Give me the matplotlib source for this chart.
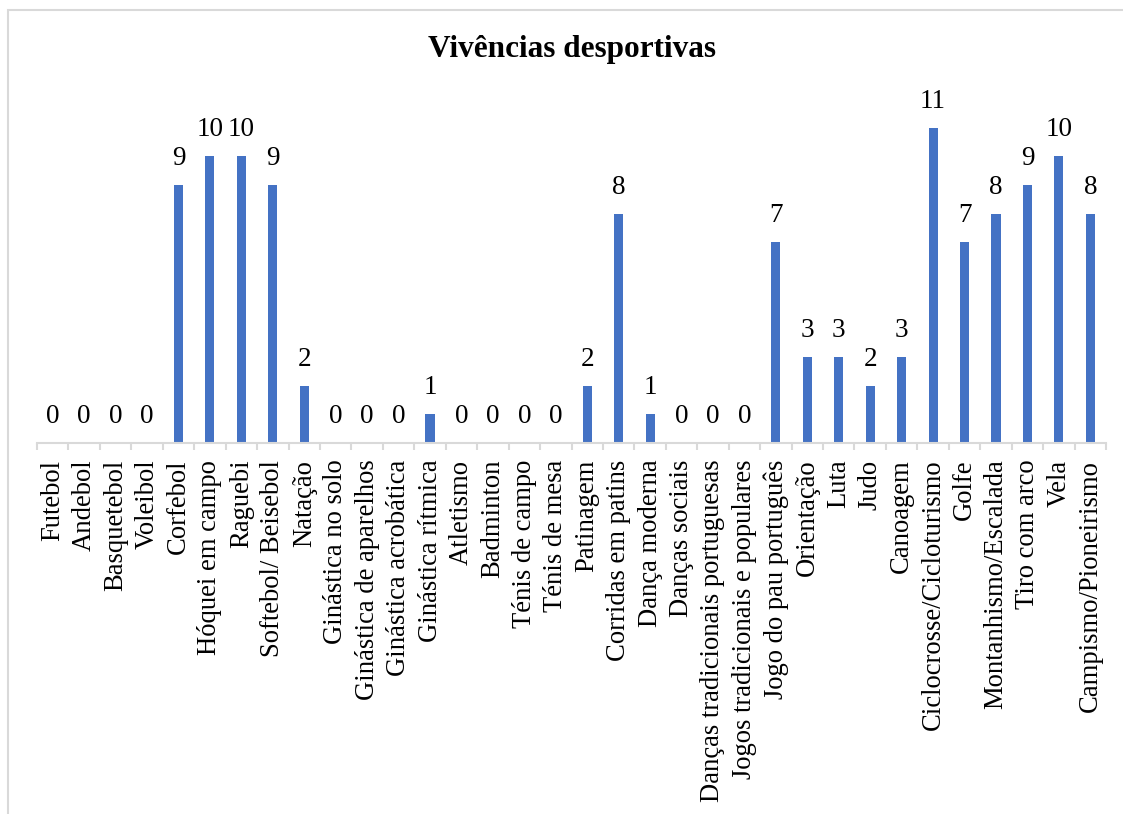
import matplotlib.pyplot as plt
from matplotlib.patches import Rectangle
import numpy as np

plt.rcParams['font.family'] = ['Liberation Serif', 'DejaVu Serif']

categorias = ['Futebol', 'Andebol', 'Basquetebol', 'Voleibol', 'Corfebol',
              'Hóquei em campo', 'Raguebi', 'Softebol/ Beisebol', 'Natação',
              'Ginástica no solo', 'Ginástica de aparelhos', 'Ginástica acrobática',
              'Ginástica rítmica', 'Atletismo', 'Badminton', 'Ténis de campo',
              'Ténis de mesa', 'Patinagem', 'Corridas em patins', 'Dança moderna',
              'Danças sociais', 'Danças tradicionais portuguesas',
              'Jogos tradicionais e populares', 'Jogo do pau português',
              'Orientação', 'Luta', 'Judo', 'Canoagem',
              'Ciclocrosse/Cicloturismo', 'Golfe', 'Montanhismo/Escalada',
              'Tiro com arco', 'Vela', 'Campismo/Pioneirismo']
valores = [0, 0, 0, 0, 9, 10, 10, 9, 2, 0, 0, 0, 1, 0, 0, 0, 0, 2, 8, 1,
           0, 0, 0, 7, 3, 3, 2, 3, 11, 7, 8, 9, 10, 8]

fig = plt.figure(figsize=(11.23, 8.14), dpi=100)
ax = fig.add_axes([37 / 1123, 1 - 443 / 814, (1106 - 37) / 1123, (443 - 99) / 814])

# moldura do gráfico (cortada à direita e em baixo)
fig.patches.append(Rectangle((8 / 1123, -0.05), 1.1, 1 - 10 / 814 + 0.05,
                             transform=fig.transFigure, fill=False,
                             edgecolor='#d9d9d9', linewidth=1.5))

x = np.arange(len(categorias))
barras = ax.bar(x, valores, width=0.29, color='#4472C4')
for xi, v in zip(x, valores):
    ax.annotate(str(v), (xi, v), xytext=(0, 10), textcoords='offset points',
                ha='center', va='bottom', fontsize=19.5)

ax.set_xlim(-0.5, len(categorias) - 0.5)
ax.set_ylim(0, 12)
ax.set_yticks([])
for s in ['top', 'right', 'left']:
    ax.spines[s].set_visible(False)
ax.spines['bottom'].set_color('#d9d9d9')
ax.spines['bottom'].set_linewidth(1.5)

ax.set_xticks(x)
ax.set_xticklabels(categorias, rotation=90, fontsize=19.2)
ax.tick_params(axis='x', which='major', length=0, pad=12)
ax.set_xticks(np.arange(-0.5, len(categorias)), minor=True)
ax.tick_params(axis='x', which='minor', length=5, color='#d9d9d9', width=1.5)

fig.text(0.509, 1 - 50 / 814, 'Vivências desportivas', ha='center', va='center',
         fontsize=22.5, fontweight='bold')

fig.savefig('out.png', dpi=100)
